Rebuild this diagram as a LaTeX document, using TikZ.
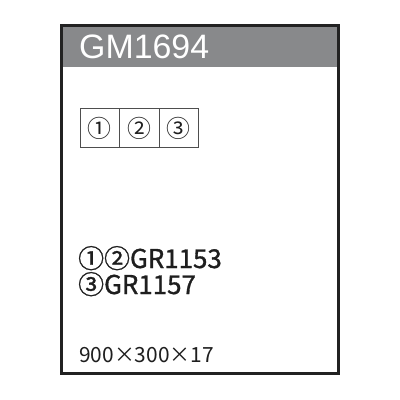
\documentclass[tikz,border=0pt]{standalone}
\usepackage{fontspec}
\setmainfont{Noto Sans CJK JP}
\newfontfamily\boldish[FakeBold=1.2]{Noto Sans CJK JP}
\newfontfamily\headfont{Liberation Sans}
\definecolor{hdr}{HTML}{88898B}
\definecolor{frm}{HTML}{222222}
\definecolor{txt}{HTML}{1E1E1E}
\begin{document}
\begin{tikzpicture}[x=1bp,y=-1bp,
  cellbox/.style={draw=frm!80,line width=1bp,minimum width=39.5bp,minimum height=39bp,inner sep=0,anchor=north west,font=\fontsize{24}{24}\selectfont,text=txt},
  lbl/.style={anchor=base west,inner sep=0,text=txt}]
\useasboundingbox (0,0) rectangle (400,400);
\fill[white] (0,0) rectangle (400,400);
\fill[hdr] (61.5,25.5) rectangle (338.5,67);
\draw[frm,line width=3bp] (61.5,25.5) rectangle (338.5,373.5);
\node[anchor=base west,inner sep=0,text=white,font=\headfont\fontsize{34}{34}\selectfont] (title) at (79,58) {GM1694};
\node[cellbox] (c1) at (79.5,108) {①};
\node[cellbox] (c2) at (119,108) {②};
\node[cellbox] (c3) at (158.5,108) {③};
\node[lbl,font=\boldish\fontsize{26}{26}\selectfont] (l1) at (78,268) {①②GR1153};
\node[lbl,font=\boldish\fontsize{26}{26}\selectfont] (l2) at (78,294) {③GR1157};
\node[lbl,font=\fontsize{21}{21}\selectfont] (dim) at (79,362) {900×300×17};
\end{tikzpicture}
\end{document}
